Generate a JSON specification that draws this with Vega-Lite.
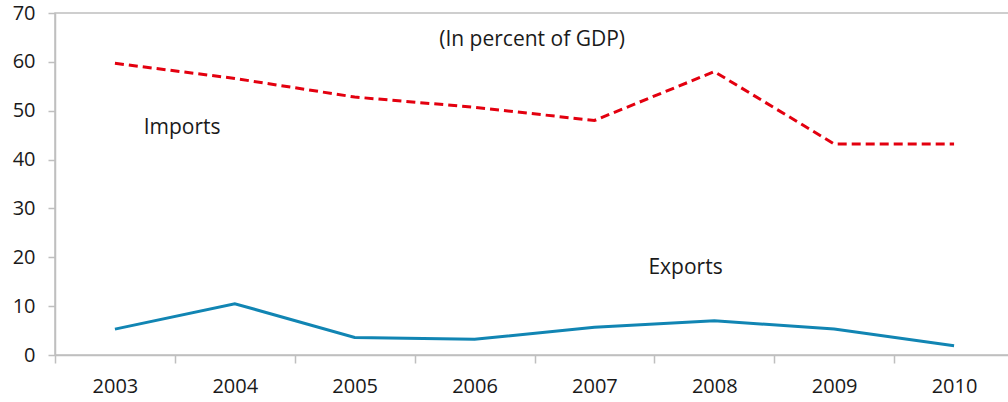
{
  "$schema": "https://vega.github.io/schema/vega-lite/v6.json",
  "width": 959,
  "height": 342,
  "autosize": {"type": "none"},
  "padding": {"left": 55, "top": 13, "right": 0, "bottom": 47},
  "background": "white",
  "config": {
    "font": "Open Sans",
    "view": {"stroke": "#bfbfbf", "strokeWidth": 1.5},
    "axis": {
      "domainColor": "#bfbfbf",
      "domainWidth": 1.5,
      "tickColor": "#bfbfbf",
      "tickWidth": 1.5,
      "labelFont": "Open Sans",
      "labelFontSize": 20,
      "labelColor": "#1a1a1a",
      "grid": false,
      "title": null
    }
  },
  "datasets": {
    "series": [
      {"year": "2003", "series": "Imports", "value": 59.7},
      {"year": "2004", "series": "Imports", "value": 56.6},
      {"year": "2005", "series": "Imports", "value": 52.8},
      {"year": "2006", "series": "Imports", "value": 50.7},
      {"year": "2007", "series": "Imports", "value": 48.0},
      {"year": "2008", "series": "Imports", "value": 58.0},
      {"year": "2009", "series": "Imports", "value": 43.2},
      {"year": "2010", "series": "Imports", "value": 43.2},
      {"year": "2003", "series": "Exports", "value": 5.3},
      {"year": "2004", "series": "Exports", "value": 10.5},
      {"year": "2005", "series": "Exports", "value": 3.6},
      {"year": "2006", "series": "Exports", "value": 3.2},
      {"year": "2007", "series": "Exports", "value": 5.7},
      {"year": "2008", "series": "Exports", "value": 7.0},
      {"year": "2009", "series": "Exports", "value": 5.3},
      {"year": "2010", "series": "Exports", "value": 1.9}
    ],
    "notes": [
      {"pos": 2006.48, "value": 64.5, "text": "(In percent of GDP)"},
      {"pos": 2003.56, "value": 46.5, "text": "Imports"},
      {"pos": 2007.76, "value": 17.8, "text": "Exports"}
    ]
  },
  "encoding": {
    "y": {
      "field": "value",
      "type": "quantitative",
      "scale": {"domain": [0, 70], "nice": false},
      "axis": {"values": [0, 10, 20, 30, 40, 50, 60, 70], "tickSize": 7, "labelPadding": 13}
    }
  },
  "layer": [
    {
      "layer": [
        {
          "data": {"name": "series"},
          "transform": [{"filter": "datum.series === 'Imports'"}],
          "mark": {"type": "line", "color": "#e3000f", "strokeWidth": 3, "strokeDash": [9, 5]}
        },
        {
          "data": {"name": "series"},
          "transform": [{"filter": "datum.series === 'Exports'"}],
          "mark": {"type": "line", "color": "#1185b3", "strokeWidth": 3}
        }
      ],
      "encoding": {
        "x": {
          "field": "year",
          "type": "ordinal",
          "scale": {"type": "band", "paddingInner": 0, "paddingOuter": 0},
          "axis": {
            "labelAngle": 0,
            "tickBand": "extent",
            "tickSize": 8,
            "labelPadding": 13
          }
        }
      }
    },
    {
      "data": {"name": "notes"},
      "mark": {"type": "text", "fontSize": 21, "color": "#1a1a1a", "font": "Open Sans", "align": "center", "baseline": "middle"},
      "encoding": {
        "x": {
          "field": "pos",
          "type": "quantitative",
          "scale": {"domain": [2002.5, 2010.5], "nice": false, "zero": false},
          "axis": null
        },
        "text": {"field": "text"}
      }
    }
  ],
  "resolve": {"scale": {"x": "independent"}}
}
